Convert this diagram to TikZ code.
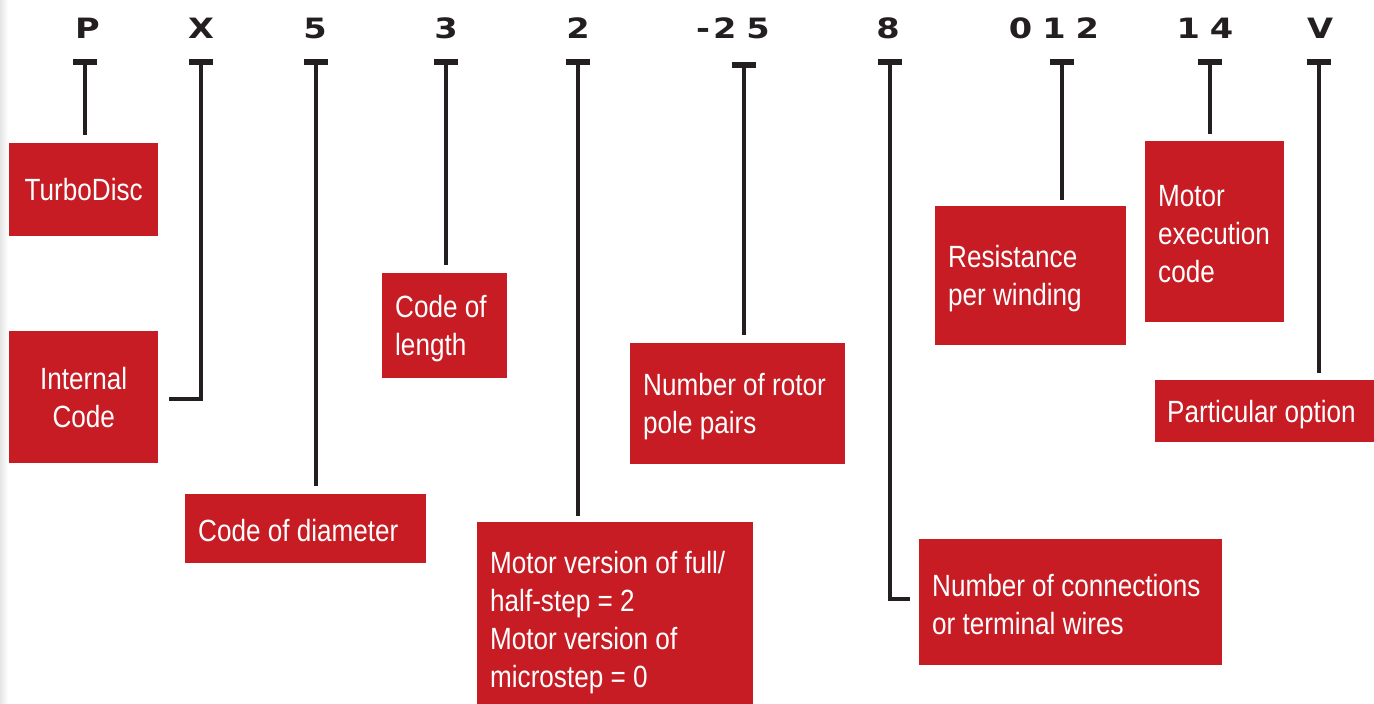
\documentclass[tikz,border=0pt]{standalone}
\usepackage{fontspec}
\setmainfont{Liberation Sans}[FakeStretch=0.85]
\newfontfamily\codefont{DejaVu Sans}[FakeStretch=1.2]
\definecolor{boxred}{HTML}{C71C24}
\definecolor{ink}{HTML}{231F20}
\begin{document}
\begin{tikzpicture}[x=1pt,y=-1pt,
  redbox/.style={fill=boxred, draw=none, inner sep=0, anchor=north west, text=white,
    font=\fontsize{30.7}{38}\selectfont, align=center},
  lbl/.style={text=white, font=\fontsize{30.7}{38}\selectfont, align=left, inner sep=0, anchor=west},
  code/.style={font=\codefont\bfseries\fontsize{28}{28}\selectfont, text=ink, anchor=base, inner sep=0},
  tbar/.style={fill=ink, minimum width=24, minimum height=6, inner sep=0},
  conn/.style={draw=ink, line width=4.5, shorten >=8}]
\useasboundingbox (0,0) rectangle (1374,704);
\clip (0,0) rectangle (1374,704);
\fill[white] (0,0) rectangle (1374,704);
\shade[left color=black!10, right color=white] (0,0) rectangle (8,704);

% code characters
\node[code] (cP)  at (87.5,38) {P};
\node[code] (cX)  at (201,38) {X};
\node[code] (c5)  at (315,38) {5};
\node[code] (c3)  at (446,38) {3};
\node[code] (c2)  at (578,38) {2};
\node[code] (c25) at (733,38) {-\hspace{3pt}2\hspace{10pt}5};
\node[code] (c8)  at (888,38) {8};
\node[code] (c012) at (1054,38) {0\hspace{10pt}1\hspace{10pt}2};
\node[code] (c14) at (1205,38) {1\hspace{10pt}4};
\node[code] (cV)  at (1320,38) {V};

% T bars
\node[tbar] (tP)  at (85,62) {};
\node[tbar] (tX)  at (201,62) {};
\node[tbar] (t5)  at (316,62) {};
\node[tbar] (t3)  at (446,62) {};
\node[tbar] (t2)  at (578,62) {};
\node[tbar] (t25) at (744,65) {};
\node[tbar] (t8)  at (890,62) {};
\node[tbar] (t012) at (1062,62) {};
\node[tbar] (t14) at (1210,62) {};
\node[tbar] (tV)  at (1319,62) {};

% boxes
\node[redbox, minimum width=149, minimum height=93] (turbo) at (9,143) {TurboDisc};
\node[redbox, minimum width=149, minimum height=132] (internal) at (9,331) {Internal\\Code};
\node[redbox, minimum width=241, minimum height=69] (diam) at (185,494) {};
\node[redbox, minimum width=125, minimum height=105] (length) at (382,273) {};
\node[redbox, minimum width=276, minimum height=196] (motor) at (477,522) {};
\node[redbox, minimum width=215, minimum height=121] (rotor) at (630,343) {};
\node[redbox, minimum width=303, minimum height=126] (connect) at (919,539) {};
\node[redbox, minimum width=191, minimum height=139] (resist) at (935,206) {};
\node[redbox, minimum width=139, minimum height=181] (exec) at (1145,141) {};
\node[redbox, minimum width=225, minimum height=62] (option) at (1155,380) {};

% box texts
\node[lbl] (diam-t) at ([xshift=13,yshift=-2]diam.west) {Code of diameter};
\node[lbl] (length-t) at ([xshift=13,yshift=-3]length.west) {Code of\\length};
\node[lbl] (motor-t) at ([xshift=13,yshift=-2]motor.west) {Motor version of full/\\half-step = 2\\Motor version of\\microstep = 0};
\node[lbl] (rotor-t) at ([xshift=13,yshift=-3]rotor.west) {Number of rotor\\pole pairs};
\node[lbl] (connect-t) at ([xshift=13,yshift=-2]connect.west) {Number of connections\\or terminal wires};
\node[lbl] (resist-t) at ([xshift=13,yshift=-3]resist.west) {Resistance\\per winding};
\node[lbl] (exec-t) at ([xshift=13,yshift=-2]exec.west) {Motor\\execution\\code};
\node[lbl] (option-t) at ([xshift=12,yshift=-3]option.west) {Particular option};

% connectors
\draw[conn] (tP.south) -- (tP.south |- turbo.north);
\draw[conn, shorten >=11] (tX.south) |- ([yshift=-2]internal.east);
\draw[conn] (t5.south) -- (t5.south |- diam.north);
\draw[conn] (t3.south) -- (t3.south |- length.north);
\draw[conn, shorten >=6] (t2.south) -- (t2.south |- motor.north);
\draw[conn] (t25.south) -- (t25.south |- rotor.north);
\draw[conn, shorten >=9] (t8.south) |- ([yshift=3]connect.west);
\draw[conn, shorten >=6] (t012.south) -- (t012.south |- resist.north);
\draw[conn, shorten >=7] (t14.south) -- (t14.south |- exec.north);
\draw[conn, shorten >=7] (tV.south) -- (tV.south |- option.north);
\end{tikzpicture}
\end{document}
